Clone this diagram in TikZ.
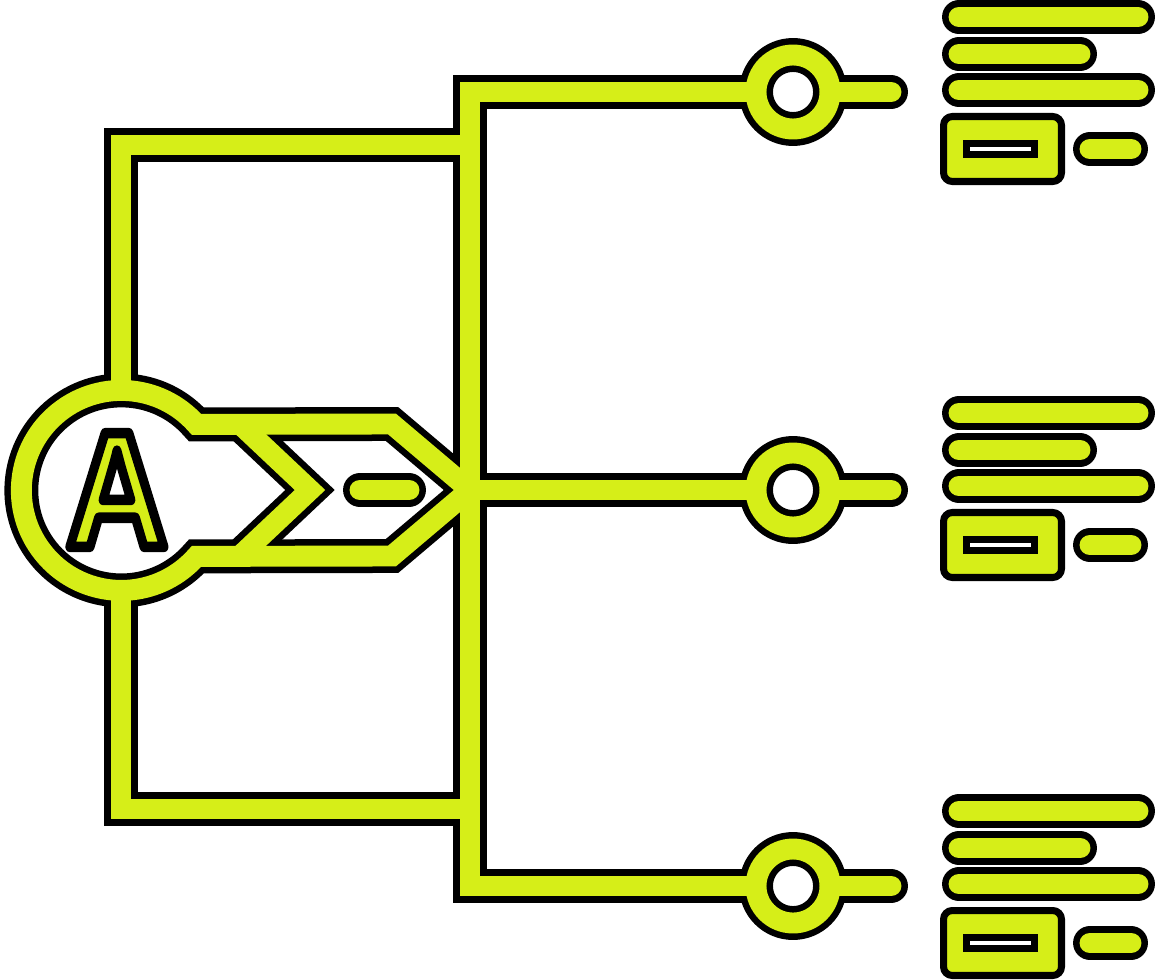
\documentclass[tikz,border=0pt]{standalone}
\usepackage{fontspec}
\usepackage{tikz}

\newfontfamily\letterfont{Liberation Sans}
\definecolor{iconlime}{RGB}{214,238,24}
% lime glyph with a black stroke round it
\newcommand\outlined[1]{{\color{iconlime}%
  \special{pdf:literal direct 0 0 0 RG 1 j 6 w 2 Tr}#1%
  \special{pdf:literal direct 0 Tr}}}

\begin{document}
\begin{tikzpicture}[
  x = 0.02cm,
  y = -0.02cm,
  rim/.style = {draw = black, line width = 19.3pt},
  core/.style = {draw = iconlime, line width = 11.9pt},
  hub/.style = {circle, inner sep = 0pt, outer sep = 0pt, minimum size = 4cm},
  dot/.style = {circle, inner sep = 0pt, outer sep = 0pt, minimum size = 1.48cm},
  card/.style = {draw, fill = iconlime, line width = 4pt, rounded corners = 5pt,
    inner sep = 0pt, minimum width = 2.36cm, minimum height = 1.3cm},
  slot/.style = {draw, fill = white, line width = 4pt, inner sep = 0pt,
    minimum width = 1.36cm, minimum height = 0.22cm},
  ]

  \useasboundingbox (0, 0) rectangle (1156, 980);

  \node at (121, 490)
  [hub, name = Hub] {};

  \node at (793, 92)
  [dot, name = DotTop] {};

  \node at (793, 490)
  [dot, name = DotMid] {};

  \node at (793, 886)
  [dot, name = DotBot] {};

  \coordinate (Tip) at (470, 490);
  \coordinate (NibTop) at (392, 424);
  \coordinate (NibBot) at (392, 556);
  \coordinate (ChevTop) at (240, 424);
  \coordinate (ChevTip) at (310, 490);
  \coordinate (ChevBot) at (240, 556);
  \coordinate (Dash) at (360, 490);
  \coordinate (ArmTop) at (470, 145);
  \coordinate (ArmBot) at (470, 809);

  % black first, then the lime on top, so crossings merge
  \foreach \layer in {rim, core} {
    \draw [\layer] (Hub.41.3) arc [start angle = -41.3, delta angle = -277.4, radius = 100]
      -- (NibBot) -- (Tip) -- (NibTop) -- cycle;
    \draw [\layer] (ChevTop) -- (ChevTip) -- (ChevBot);
    \draw [\layer, line cap = round] (Dash) -- +(0: 49);

    \draw [\layer] (Hub.north) |- (ArmTop);
    \draw [\layer] (Hub.south) |- (ArmBot);

    \draw [\layer] (DotTop.west) -- (DotTop.west -| Tip) -- (DotBot.west -| Tip) -- (DotBot.west);
    \draw [\layer] (Tip) -- (DotMid.west);

    \draw [\layer] (DotTop.center) circle [radius = 37];
    \draw [\layer] (DotMid.center) circle [radius = 37];
    \draw [\layer] (DotBot.center) circle [radius = 37];

    \draw [\layer, line cap = round] (DotTop.east) to +(0: 61);
    \draw [\layer, line cap = round] (DotMid.east) to +(0: 61);
    \draw [\layer, line cap = round] (DotBot.east) to +(0: 61);

    \foreach \dy in {0, 396, 794} {
      \draw [\layer, line cap = round] (959, 17 + \dy) -- (1138, 17 + \dy);
      \draw [\layer, line cap = round] (959, 54 + \dy) -- (1080, 54 + \dy);
      \draw [\layer, line cap = round] (959, 90 + \dy) -- (1138, 90 + \dy);
      \draw [\layer, line cap = round] (1090, 149 + \dy) -- (1131, 149 + \dy);
    }
  }

  \foreach \dy in {0, 396, 794} {
    \node at (1002.5, 149 + \dy) [card, name = Card\dy] {};
    \node at (1000.5, 149 + \dy) [slot, name = Slot\dy] {};
  }

  \node at (117, 490)
  [name = Letter, inner sep = 0pt,
   font = \letterfont\bfseries\fontsize{94}{94}\selectfont]
  {\scalebox{0.85}[1]{\outlined{A}}};

\end{tikzpicture}
\end{document}
